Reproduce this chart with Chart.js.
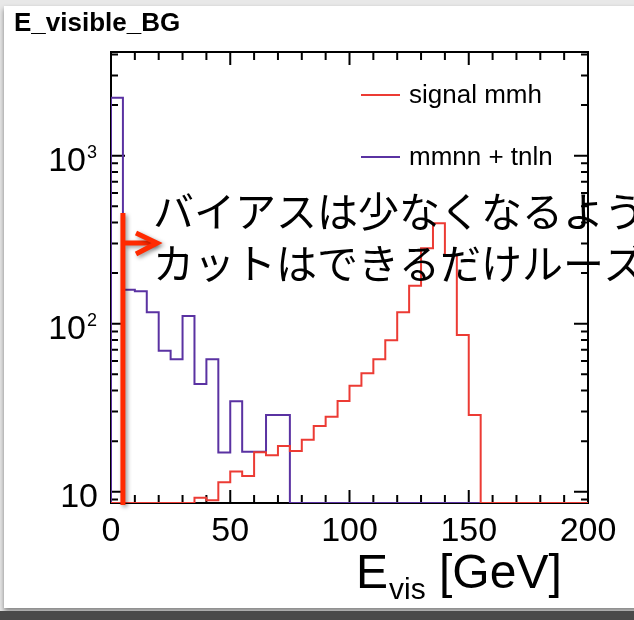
<!DOCTYPE html>
<html>
<head>
<meta charset="utf-8">
<title>E_visible_BG</title>
<script src="https://cdn.jsdelivr.net/npm/chart.js@4.4.1/dist/chart.umd.min.js"></script>
<style>
    html, body { margin: 0; padding: 0; }
    body { width: 634px; height: 620px; overflow: hidden; background: #e8e8e8; position: relative; }
    #slide { position: absolute; left: 4px; top: 6px; width: 640px; height: 602px; background: #fff; box-shadow: 0 3px 5px rgba(0, 0, 0, 0.45); }
    #bar { position: absolute; left: 0; top: 611px; width: 634px; height: 9px; background: #4a4a4a; }
    #wrap { position: absolute; left: 0; top: 0; width: 634px; height: 620px; }
</style>
</head>
<body>
<div id="slide"></div>
<div id="bar"></div>
<div id="wrap"><canvas id="evisChart" width="634" height="620"></canvas></div>
<script>
// axis ranges (GeV on x, entries on a log y axis)
const X_MIN = 0;
const X_MAX = 200;
const BIN_WIDTH = 5;
const Y_MIN = 8.57;
const Y_MAX = 4140;
const CUT_VALUE = 5;

const xTickLabels = [0, 50, 100, 150, 200];
const yDecades = [1, 2, 3];

// entries per 5 GeV bin, 0..200 GeV
const signalMmh = [
    0, 0, 0, 0, 0, 0, 0, 9.2, 8.9, 11.4,
    13.2, 12.4, 17.2, 16.5, 18.7, 17.5, 20.4, 24.6, 27.9, 34.7,
    42.7, 50.7, 61.4, 79.6, 117, 168, 281, 396, 256, 85.7,
    28.6, 0, 0, 0, 0, 0, 0, 0, 0, 0
];
const mmnnTnln = [
    2213, 159, 156, 117, 69, 61.4, 111, 43.7, 61.4, 17.1,
    34.5, 17.3, 17.3, 28.6, 28.6, 0, 0, 0, 0, 0,
    0, 0, 0, 0, 0, 0, 0, 0, 0, 0,
    0, 0, 0, 0, 0, 0, 0, 0, 0, 0
];

const seriesNames = ['signal mmh', 'mmnn + tnln'];
const seriesColors = ['#ec3b34', '#5a32a2'];
const histTitle = 'E_visible_BG';
const noteLines = ['バイアスは少なくなるよう', 'カットはできるだけルーズ'];

const FONT = '"Liberation Sans", Arial, Helvetica, sans-serif';
const JP_FONT = '"Noto Sans CJK JP", sans-serif';


// empty bins sit on the lower frame edge, like ROOT does on a log axis
function histPoints(counts) {
    const pts = [{ x: X_MIN, y: Y_MIN }];
    counts.forEach((c, i) => {
        pts.push({ x: X_MIN + (i + 1) * BIN_WIDTH, y: c > 0 ? c : Y_MIN });
    });
    return pts;
}


const rootStyle = {
    id: 'rootStyle',

    beforeDatasetsDraw(chart) {
        const { ctx, chartArea: a, scales: { x, y } } = chart;
        ctx.save();
        ctx.strokeStyle = '#000';
        ctx.lineWidth = 2;
        ctx.strokeRect(a.left, a.top, a.right - a.left, a.bottom - a.top);

        ctx.beginPath();
        for (let v = X_MIN; v <= X_MAX; v += 10) {
            const px = x.getPixelForValue(v);
            const len = v % 50 === 0 ? 13 : 8;
            ctx.moveTo(px, a.bottom);
            ctx.lineTo(px, a.bottom - len);
            ctx.moveTo(px, a.top);
            ctx.lineTo(px, a.top + len);
        }
        for (let d = 0; d <= 4; d++) {
            for (let m = 1; m <= 9; m++) {
                const v = m * Math.pow(10, d);
                if (v < Y_MIN || v > Y_MAX) continue;
                const py = y.getPixelForValue(v);
                const len = m === 1 ? 14 : 7;
                ctx.moveTo(a.left, py);
                ctx.lineTo(a.left + len, py);
                ctx.moveTo(a.right, py);
                ctx.lineTo(a.right - len, py);
            }
        }
        ctx.stroke();
        ctx.restore();
    },

    afterDraw(chart) {
        const { ctx, scales: { x, y } } = chart;
        ctx.save();
        ctx.fillStyle = '#000';
        ctx.textAlign = 'left';
        ctx.textBaseline = 'alphabetic';

        // histogram name
        ctx.font = 'bold 26px ' + FONT;
        ctx.fillText(histTitle, 14, 31);

        // y labels 10, 10^2, 10^3
        yDecades.forEach(d => {
            const py = y.getPixelForValue(Math.pow(10, d));
            const exp = d === 1 ? '' : String(d);
            ctx.font = '18px ' + FONT;
            const expW = exp ? ctx.measureText(exp).width + 2 : 0;
            ctx.font = '34px ' + FONT;
            const baseW = ctx.measureText('10').width;
            const right = 98;
            ctx.fillText('10', right - expW - baseW, py + 15);
            if (exp) {
                ctx.font = '18px ' + FONT;
                ctx.fillText(exp, right - expW + 1, py + 2);
            }
        });

        // x title E_vis [GeV]
        let tx = 356;
        ctx.font = '48px ' + FONT;
        ctx.fillText('E', tx, 588);
        tx += ctx.measureText('E').width + 1;
        ctx.font = '30px ' + FONT;
        ctx.fillText('vis', tx, 599);
        tx += ctx.measureText('vis').width;
        ctx.font = '48px ' + FONT;
        ctx.fillText(' [GeV]', tx, 588);

        // legend
        const rows = [95, 157];
        chart.data.datasets.forEach((ds, i) => {
            ctx.strokeStyle = ds.borderColor;
            ctx.lineWidth = 2;
            ctx.beginPath();
            ctx.moveTo(361, rows[i]);
            ctx.lineTo(400, rows[i]);
            ctx.stroke();
            ctx.font = '26px ' + FONT;
            ctx.fillText(ds.label, 409, rows[i] + 8);
        });

        // slide note
        ctx.font = '41px ' + JP_FONT;
        ctx.textBaseline = 'middle';
        ctx.fillText(noteLines[0], 153, 211);
        ctx.fillText(noteLines[1], 153, 263);

        // cut marker with arrow
        const cutX = x.getPixelForValue(CUT_VALUE);
        ctx.shadowColor = 'rgba(0, 0, 0, 0.4)';
        ctx.shadowBlur = 4;
        ctx.shadowOffsetX = 2;
        ctx.shadowOffsetY = 2;
        ctx.strokeStyle = '#ff2a00';
        ctx.lineWidth = 5;
        ctx.lineCap = 'butt';
        ctx.beginPath();
        ctx.moveTo(cutX, 213);
        ctx.lineTo(cutX, 505);
        ctx.moveTo(cutX, 243);
        ctx.lineTo(156, 243);
        ctx.stroke();
        ctx.beginPath();
        ctx.lineJoin = 'miter';
        ctx.moveTo(136, 233);
        ctx.lineTo(157, 243);
        ctx.lineTo(136, 254);
        ctx.stroke();
        ctx.restore();
    }
};


const ctx = document.getElementById('evisChart').getContext('2d');

new Chart(ctx, {
    type: 'line',
    data: {
        datasets: [
            {
                label: seriesNames[0],
                data: histPoints(signalMmh),
                borderColor: seriesColors[0],
                borderWidth: 2,
                stepped: 'after',
                pointRadius: 0,
                fill: false
            },
            {
                label: seriesNames[1],
                data: histPoints(mmnnTnln),
                borderColor: seriesColors[1],
                borderWidth: 2,
                stepped: 'after',
                pointRadius: 0,
                fill: false
            }
        ]
    },
    options: {
        responsive: false,
        animation: false,
        events: [],
        layout: {
            padding: { left: 0, top: 52, right: 46, bottom: 0 }
        },
        plugins: {
            legend: { display: false },
            tooltip: { enabled: false },
            title: { display: false }
        },
        scales: {
            x: {
                type: 'linear',
                min: X_MIN,
                max: X_MAX,
                afterBuildTicks: s => { s.ticks = xTickLabels.map(v => ({ value: v })); },
                afterFit: s => { s.height = 117; },
                ticks: {
                    color: '#000',
                    font: { family: FONT, size: 34 },
                    padding: 8,
                    maxRotation: 0,
                    autoSkip: false
                },
                grid: { display: false, drawTicks: false },
                border: { display: false }
            },
            y: {
                type: 'logarithmic',
                min: Y_MIN,
                max: Y_MAX,
                afterFit: s => { s.width = 111; },
                ticks: { display: false },
                grid: { display: false, drawTicks: false },
                border: { display: false }
            }
        }
    },
    plugins: [rootStyle]
});
</script>
</body>
</html>
